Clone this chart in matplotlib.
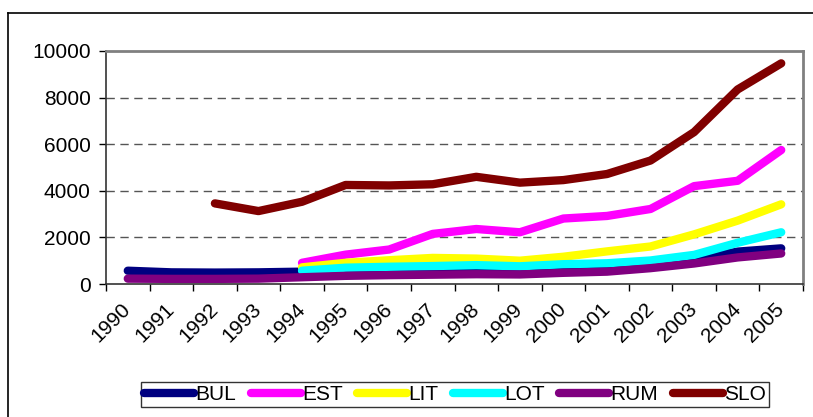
import matplotlib
matplotlib.use("Agg")
import matplotlib.pyplot as plt
import numpy as np
from matplotlib.lines import Line2D

plt.rcParams['font.family'] = ['Liberation Sans', 'DejaVu Sans']

years = [str(y) for y in range(1990, 2006)]

# values (None = no data)
bul = [570, 500, 490, 500, 530, 520, 520, 530, 560, 560, 600, 680, 800, 1060, 1390, 1530]
est = [None, None, None, None, 910, 1260, 1480, 2150, 2360, 2220, 2810, 2920, 3220, 4200, 4430, 5750]
lit = [None, None, None, None, 715, 910, 1020, 1120, 1090, 1000, 1170, 1400, 1610, 2130, 2720, 3420]
lot = [None, None, None, None, 570, 700, 740, 770, 810, 760, 850, 890, 1010, 1250, 1770, 2220]
rum = [230, 220, 220, 230, 290, 350, 380, 400, 420, 410, 480, 530, 680, 880, 1140, 1310]
slo = [None, None, 3460, 3130, 3530, 4250, 4230, 4280, 4600, 4350, 4460, 4720, 5300, 6520, 8350, 9470]

series = [("BUL", bul, "#000080"), ("EST", est, "#FF00FF"), ("LIT", lit, "#FFFF00"),
          ("LOT", lot, "#00FFFF"), ("RUM", rum, "#800080"), ("SLO", slo, "#800000")]

fig = plt.figure(figsize=(8.13, 4.17), dpi=100)
ax = fig.add_axes([106/813, 1 - 284/417, (803 - 106)/813, (284 - 51)/417])

x = np.arange(len(years))
for name, vals, col in series:
    y = np.array([np.nan if v is None else v for v in vals], dtype=float)
    ax.plot(x, y, color=col, lw=6, solid_capstyle='round', solid_joinstyle='round', label=name)

ax.set_xlim(-0.5, len(years) - 0.5)
ax.set_ylim(0, 10000)
ax.set_yticks(range(0, 10001, 2000))
ax.set_xticks(x)
ax.set_xticklabels(years, rotation=45, ha='right', va='center', rotation_mode='anchor', fontsize=15)
ax.set_xticks(np.arange(-0.5, len(years)), minor=True)
ax.tick_params(axis='x', which='major', length=0, pad=16)
ax.tick_params(axis='x', which='minor', length=5, width=1, color='black')
ax.tick_params(axis='y', length=5, width=1, labelsize=15, pad=6)

for yv in range(2000, 10000, 2000):
    ax.axhline(yv, color='#555555', lw=1, ls=(0, (6, 4)), zorder=0)

for s in ['top', 'right']:
    ax.spines[s].set_color('#808080')
    ax.spines[s].set_linewidth(2)
for s in ['left', 'bottom']:
    ax.spines[s].set_color('#333333')
    ax.spines[s].set_linewidth(1.2)

leg = fig.legend(loc='center', bbox_to_anchor=(455/813, 1 - 394.5/417), ncol=6,
                 fontsize=15, frameon=True, fancybox=False, edgecolor='black',
                 handlelength=2.4, handletextpad=0.05, columnspacing=0.7,
                 borderpad=0.15, borderaxespad=0)
leg.get_frame().set_linewidth(1)

# outer chart border (partly cut off at right/bottom)
fig.add_artist(Line2D([7.5/813, 7.5/813], [0, 1 - 12.5/417], color='black', lw=1.2))
fig.add_artist(Line2D([7.5/813, 1], [1 - 12.5/417, 1 - 12.5/417], color='black', lw=1.2))

fig.savefig('out.png', dpi=100)
